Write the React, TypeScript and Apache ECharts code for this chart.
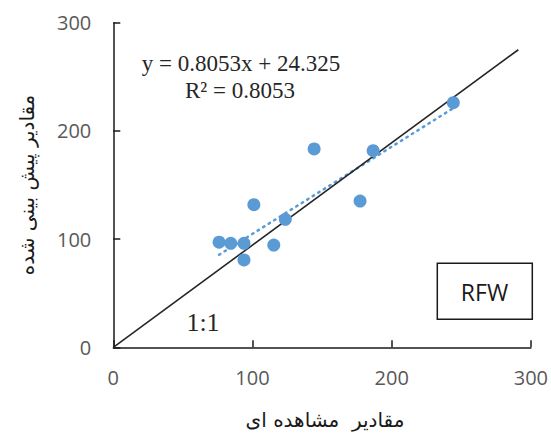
import React, { useEffect, useRef } from "react";
import * as echarts from "echarts";

// Observed vs. predicted values
const observed = [76, 84.4, 93.9, 93.9, 101, 115.3, 123.6, 144.3, 177.3, 186.7, 244.3];
const predicted = [97.2, 96.1, 96.1, 80.7, 131.8, 94.5, 118.3, 183.3, 135.2, 181.7, 226.1];

// Linear fit y = slope * x + intercept
const slope = 0.8053;
const intercept = 24.325;
const rSquared = 0.8053;

// Reference line drawn across the plot
const refLine = [
  [0, 0],
  [291, 275],
];

const axisTicks = [0, 100, 200, 300];

const xTitle = "مقادیر  مشاهده ای";
const yTitle = "مقادیر پیش بینی شده";
const panelLabel = "RFW";
const refLabel = "1:1";

export default function App() {
  const ref = useRef<HTMLDivElement>(null);

  useEffect(() => {
    if (!ref.current) return;
    const chart = echarts.init(ref.current, undefined, { renderer: "svg" });

    const points = observed.map((x, i) => [x, predicted[i]]);
    const xMin = Math.min(...observed);
    const xMax = Math.max(...observed);
    const fit = [
      [xMin, slope * xMin + intercept],
      [xMax, slope * xMax + intercept],
    ];

    const axisCommon = {
      min: axisTicks[0],
      max: axisTicks[axisTicks.length - 1],
      interval: axisTicks[1] - axisTicks[0],
      splitLine: { show: false },
      axisLine: { show: true, lineStyle: { color: "#1a1a1a", width: 1.5 } },
      axisTick: { show: true, inside: true, length: 7, lineStyle: { color: "#1a1a1a", width: 1.5 } },
      axisLabel: {
        color: "#595959",
        fontFamily: "Open Sans",
        fontSize: 20,
      },
    };

    chart.setOption({
      animation: false,
      backgroundColor: "#ffffff",
      grid: { left: 113.3, right: 17, top: 22.7, bottom: 89.7 },
      xAxis: {
        type: "value",
        ...axisCommon,
        axisLabel: { ...axisCommon.axisLabel, margin: 20 },
      },
      yAxis: {
        type: "value",
        ...axisCommon,
        axisLabel: { ...axisCommon.axisLabel, margin: 22 },
      },
      series: [
        {
          type: "line",
          data: refLine,
          symbol: "none",
          lineStyle: { color: "#262626", width: 1.6 },
          z: 3,
        },
        {
          type: "line",
          data: fit,
          symbol: "none",
          lineStyle: { color: "#5B9BD5", width: 2.5, type: [1.5, 5], cap: "round" },
          z: 2,
        },
        {
          type: "scatter",
          data: points,
          symbolSize: 13,
          itemStyle: { color: "#5B9BD5", opacity: 1 },
          z: 4,
        },
      ],
      graphic: [
        {
          type: "text",
          x: 241,
          y: 63,
          style: {
            text: `y = ${slope}x + ${intercept}`,
            font: '23px "Liberation Serif"',
            fill: "#262626",
            align: "center",
            verticalAlign: "middle",
          },
        },
        {
          type: "text",
          x: 240,
          y: 90,
          style: {
            text: `R² = ${rSquared}`,
            font: '23px "Liberation Serif"',
            fill: "#262626",
            align: "center",
            verticalAlign: "middle",
          },
        },
        {
          type: "text",
          x: 203,
          y: 322,
          style: {
            text: refLabel,
            font: '26px "Liberation Serif"',
            fill: "#262626",
            align: "center",
            verticalAlign: "middle",
          },
        },
        {
          type: "rect",
          shape: { x: 437.3, y: 263.3, width: 95, height: 56 },
          style: { fill: "#ffffff", stroke: "#1a1a1a", lineWidth: 1.5 },
          z: 10,
        },
        {
          type: "text",
          x: 484.5,
          y: 292,
          z: 11,
          style: {
            text: panelLabel,
            font: '23px "Open Sans"',
            fill: "#1a1a1a",
            align: "center",
            verticalAlign: "middle",
          },
        },
        {
          type: "text",
          x: 325,
          y: 420,
          style: {
            text: xTitle,
            font: '20px "DejaVu Sans"',
            fill: "#1a1a1a",
            align: "center",
            verticalAlign: "middle",
          },
        },
        {
          type: "text",
          x: 27,
          y: 185,
          rotation: Math.PI / 2,
          style: {
            text: yTitle,
            font: '20px "DejaVu Sans"',
            fill: "#1a1a1a",
            align: "center",
            verticalAlign: "middle",
          },
        },
      ],
    });

    return () => chart.dispose();
  }, []);

  return (
    <div
      ref={ref}
      style={{ position: "fixed", left: 0, top: 0, width: 551, height: 437 }}
    />
  );
}
